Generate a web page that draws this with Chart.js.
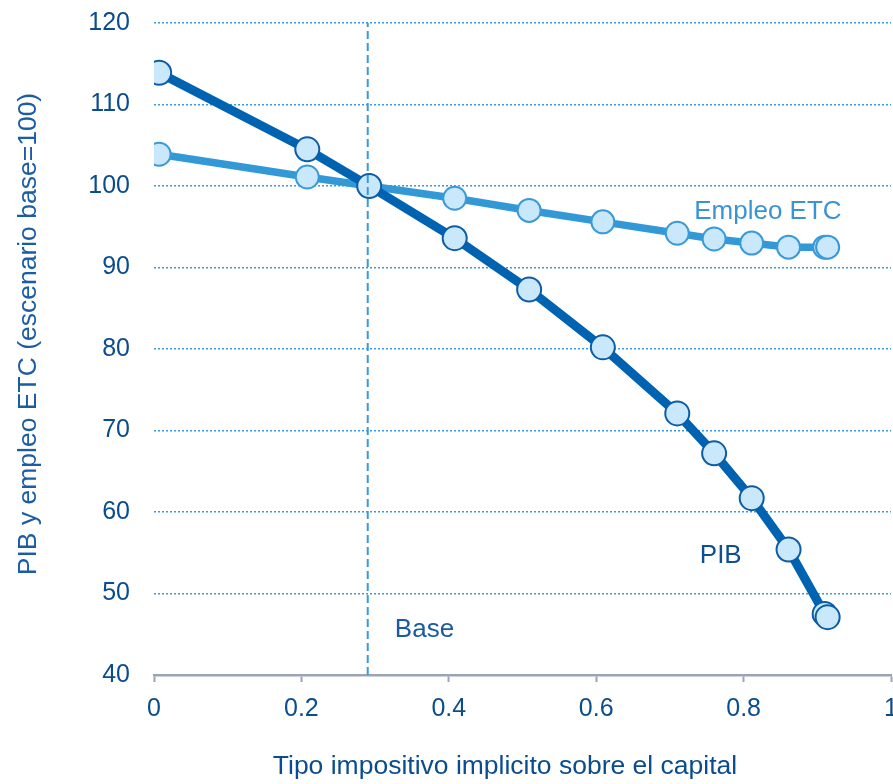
<!DOCTYPE html>
<html>
<head>
<meta charset="utf-8">
<script src="https://cdn.jsdelivr.net/npm/chart.js@4.4.1/dist/chart.umd.min.js"></script>
<style>
  html, body { margin: 0; padding: 0; background: #fff; }
  #wrap { width: 893px; height: 784px; }
</style>
</head>
<body>
<div id="wrap"><canvas id="chart" width="893" height="784"></canvas></div>
<script>
// tipo impositivo (eje x) y series indexadas (base = 100)
const taxRate = [0.007, 0.208, 0.292, 0.408, 0.509, 0.609, 0.710, 0.760, 0.811, 0.861, 0.910, 0.914];
const pib = [113.9, 104.5, 100.0, 93.6, 87.3, 80.2, 72.1, 67.2, 61.7, 55.4, 47.5, 47.1];
const empleo = [103.9, 101.1, 100.0, 98.5, 97.0, 95.6, 94.2, 93.5, 93.0, 92.5, 92.5, 92.5];

const baseRate = 0.29;
const xTicks = [0, 0.2, 0.4, 0.6, 0.8, 1];
const yTicks = [40, 50, 60, 70, 80, 90, 100, 110, 120];

const xTitle = 'Tipo impositivo implicito sobre el capital';
const yTitle = 'PIB y empleo ETC (escenario base=100)';

// etiquetas dentro del grafico (en coordenadas de datos)
const labelText = ['Empleo ETC', 'PIB', 'Base'];
const labelX = [0.833, 0.769, 0.367];
const labelY = [96.8, 54.6, 45.6];
const labelColor = ['#3a93d3', '#0e4f92', '#1a5aa3'];

const FONT = "'Liberation Sans', Arial, sans-serif";
const TEXT = '#0b4c8e';

const toPoints = (xs, ys) => xs.map((x, i) => ({ x: x, y: ys[i] }));

// textos: etiquetas de las series y titulos de los ejes (algo descentrados, como en el original)
const chartTexts = {
  id: 'chartTexts',
  afterDraw(chart) {
    const { ctx, scales, chartArea } = chart;
    ctx.save();
    ctx.font = '26px ' + FONT;
    ctx.textAlign = 'center';
    ctx.textBaseline = 'middle';
    labelText.forEach((t, i) => {
      ctx.fillStyle = labelColor[i];
      ctx.fillText(t, scales.x.getPixelForValue(labelX[i]), scales.y.getPixelForValue(labelY[i]));
    });

    ctx.font = '26.5px ' + FONT;
    ctx.fillStyle = TEXT;
    ctx.fillText(xTitle, chartArea.left + 351, chart.height - 17);

    ctx.fillStyle = '#1a5ca6';
    ctx.translate(29, chartArea.top + 311);
    ctx.rotate(-Math.PI / 2);
    ctx.fillText(yTitle, 0, 0);
    ctx.restore();
  }
};

new Chart(document.getElementById('chart'), {
  type: 'line',
  data: {
    datasets: [
      {
        label: 'Base',
        data: [{ x: baseRate, y: yTicks[0] }, { x: baseRate, y: yTicks[yTicks.length - 1] }],
        borderColor: '#3a9ad9',
        borderWidth: 2,
        borderDash: [8, 4],
        pointRadius: 0,
        order: 0
      },
      {
        label: 'PIB',
        data: toPoints(taxRate, pib),
        borderColor: '#0063b1',
        borderWidth: 9,
        pointRadius: 12,
        pointBackgroundColor: '#c9e8fb',
        pointBorderColor: '#0c5da8',
        pointBorderWidth: 2,
        order: 1
      },
      {
        label: 'Empleo ETC',
        data: toPoints(taxRate, empleo),
        borderColor: '#3399d6',
        borderWidth: 7.5,
        pointRadius: 11.5,
        pointBackgroundColor: '#c9e8fb',
        pointBorderColor: '#3a9ad9',
        pointBorderWidth: 2,
        order: 2
      }
    ]
  },
  options: {
    responsive: false,
    animation: false,
    devicePixelRatio: 1,
    layout: { autoPadding: false, padding: { top: 23, right: 2, left: 0, bottom: 0 } },
    plugins: {
      legend: { display: false },
      tooltip: { enabled: false }
    },
    scales: {
      x: {
        type: 'linear',
        min: 0,
        max: 1,
        afterBuildTicks: s => { s.ticks = xTicks.map(v => ({ value: v })); },
        afterFit: s => { s.height = 109; s.paddingLeft = 0; s.paddingRight = 0; },
        ticks: {
          color: TEXT,
          font: { family: FONT, size: 25 },
          padding: 12,
          maxRotation: 0,
          autoSkip: false,
          callback: v => String(v)
        },
        grid: {
          drawOnChartArea: false,
          drawTicks: true,
          tickLength: 7,
          tickWidth: 2,
          tickColor: '#9aa3b8'
        },
        border: { color: '#9aa3b8', width: 2.5 }
      },
      y: {
        min: 40,
        max: 120,
        afterBuildTicks: s => { s.ticks = yTicks.map(v => ({ value: v })); },
        afterFit: s => { s.width = 154; s.paddingTop = 0; s.paddingBottom = 0; },
        ticks: {
          color: TEXT,
          font: { family: FONT, size: 25 },
          padding: 24
        },
        grid: {
          color: '#3a9ad9',
          lineWidth: 1.5,
          drawTicks: false
        },
        border: { display: false, dash: [2, 2] }
      }
    }
  },
  plugins: [chartTexts]
});
</script>
</body>
</html>
